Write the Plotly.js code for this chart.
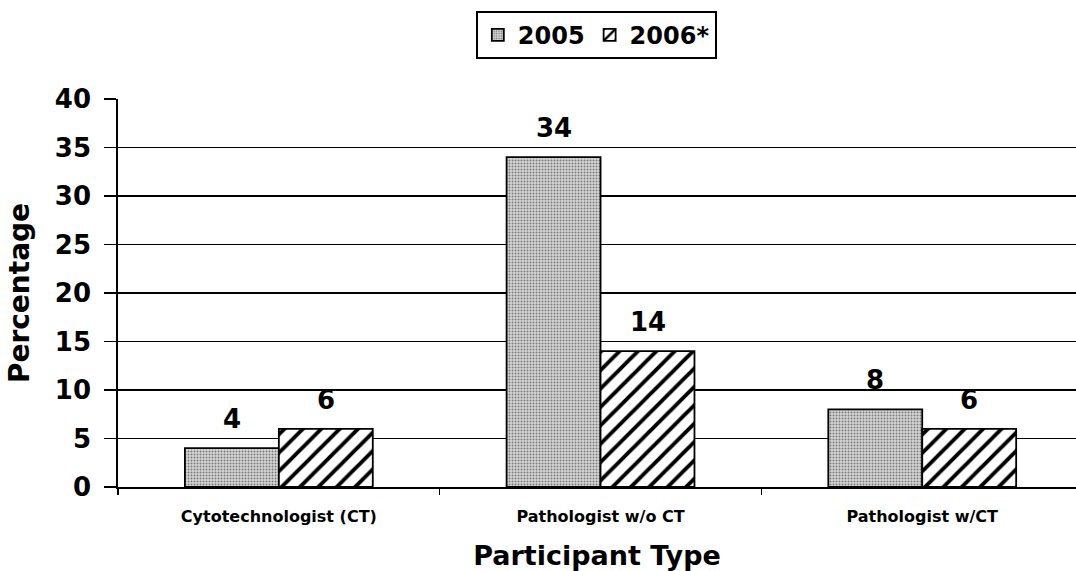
<!DOCTYPE html>
<html><head><meta charset="utf-8">
<script src="https://cdn.plot.ly/plotly-3.0.1.min.js"></script>
<style>html,body{margin:0;padding:0;background:#fff;overflow:hidden}</style>
</head><body>
<div id="chart" style="width:1076px;height:571px"></div>
<script>
const categories = ["Cytotechnologist (CT)", "Pathologist w/o CT", "Pathologist w/CT"];
const seriesNames = ["2005", "2006*"];
const values2005 = [4, 34, 8];
const values2006 = [6, 14, 6];
const yTicks = [0, 5, 10, 15, 20, 25, 30, 35, 40];

const FONT = "DejaVu Sans, Verdana, sans-serif";

const traces = [
  {
    type: "bar", name: seriesNames[0], x: categories, y: values2005,
    marker: {color: "#d4d4d4", line: {color: "#000", width: 1.8},
      pattern: {shape: ".", fgcolor: "#7a7a7a", bgcolor: "#d8d8d8", size: 3, solidity: 0.35}}
  },
  {
    type: "bar", name: seriesNames[1], x: categories, y: values2006,
    marker: {color: "#fff", line: {color: "#000", width: 1.8},
      pattern: {shape: "/", fgcolor: "#000", bgcolor: "#fff", size: 13, solidity: 0.3}}
  }
];

const labelFont = {family: FONT, size: 26, color: "#000", weight: "bold"};
const annotations = [];
categories.forEach((c, i) => {
  annotations.push({x: c, y: values2005[i], text: String(values2005[i]), xref: "x", yref: "y",
    showarrow: false, xshift: -47, yshift: 12, yanchor: "bottom", font: labelFont});
  annotations.push({x: c, y: values2006[i], text: String(values2006[i]), xref: "x", yref: "y",
    showarrow: false, xshift: 47, yshift: 12, yanchor: "bottom", font: labelFont});
});

const layout = {
  width: 1076, height: 571,
  margin: {l: 118, r: 0, t: 99, b: 84},
  paper_bgcolor: "#fff", plot_bgcolor: "#fff",
  barmode: "group", bargap: 0.416, bargroupgap: 0,
  showlegend: true,
  annotations: annotations,
  legend: {
    orientation: "h", x: 0.4995, xanchor: "center", y: 1.227, yanchor: "top",
    bordercolor: "#000", borderwidth: 1.8, bgcolor: "#fff",
    font: {family: FONT, size: 24, color: "#000", weight: "bold"},
    itemwidth: 30, tracegroupgap: 0
  },
  xaxis: {
    type: "category", range: [-0.5, 2.478],
    tickson: "boundaries", ticks: "outside", ticklen: 6, tickwidth: 1.5, tickcolor: "#000",
    showline: true, linecolor: "#000", linewidth: 1.8,
    showgrid: false, zeroline: false, ticklabelstandoff: 14,
    tickfont: {family: FONT, size: 16, color: "#000", weight: "bold"},
    title: {text: "Participant Type", standoff: 23,
      font: {family: FONT, size: 27, color: "#000", weight: "bold"}}
  },
  yaxis: {
    range: [0, 40], tickvals: yTicks, ticktext: yTicks.map(String),
    ticks: "outside", ticklen: 12, tickwidth: 1.5, tickcolor: "#000",
    showline: true, linecolor: "#000", linewidth: 1.8,
    showgrid: true, gridcolor: "#000", gridwidth: 1.8, zeroline: false,
    ticklabelstandoff: 8,
    tickfont: {family: FONT, size: 26, color: "#000", weight: "bold"},
    title: {text: "Percentage", standoff: 17,
      font: {family: FONT, size: 28, color: "#000", weight: "bold"}}
  }
};

Plotly.newPlot("chart", traces, layout, {displayModeBar: false, staticPlot: true});
</script>
</body></html>
